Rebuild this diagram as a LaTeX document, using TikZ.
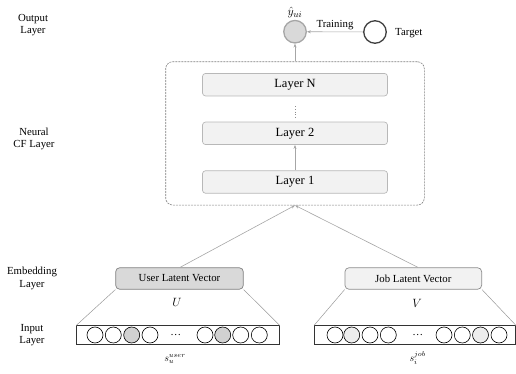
\documentclass[tikz,border=0pt]{standalone}
\usepackage{fontspec}
\setmainfont{Liberation Serif}
\usetikzlibrary{arrows.meta}
\begin{document}
\begin{tikzpicture}[x=1pt,y=-1pt,
  lbl/.style={font=\fontsize{10.8}{12.5}\selectfont, align=center, inner sep=1pt},
  layerbox/.style={draw=black!28, fill=black!5, rounded corners=3pt, line width=0.7pt,
    minimum width=185pt, minimum height=22.5pt, inner sep=0pt, font=\fontsize{12.5}{14}\selectfont},
  embox/.style={rounded corners=4pt, line width=0.7pt, minimum height=21.5pt, inner sep=0pt,
    font=\fontsize{10.8}{12}\selectfont},
  inbox/.style={draw=black!80, fill=white, line width=0.8pt, minimum height=18.5pt, inner sep=0pt},
  dot/.style={circle, draw=black, line width=0.6pt, minimum size=16pt, inner sep=0pt},
  arr/.style={draw=black!35, line width=0.6pt, -{Stealth[length=4pt,width=3pt]}},
  thin line/.style={draw=black!40, line width=0.5pt},
  mathlbl/.style={inner sep=0pt}
]
\useasboundingbox (0,0) rectangle (516,374);

% left labels
\node[lbl] (lout) at (33,25) {Output\\Layer};
\node[lbl] (lcf) at (34,139) {Neural\\CF Layer};
\node[lbl] (lemb) at (32,278.5) {Embedding\\Layer};
\node[lbl] (lin) at (32,335) {Input\\Layer};

% neural CF block
\node[draw=black!50, dashed, dash pattern=on 2pt off 1pt, line width=0.6pt, rounded corners=7pt,
  minimum width=258.6pt, minimum height=143.3pt, inner sep=0pt] (cf) at (295,133.4) {};
\node[layerbox] (ln) at (295,84.7) {Layer N};
\node[layerbox] (l2) at (295,133.3) {Layer 2};
\node[layerbox] (l1) at (295,182) {Layer 1};
\coordinate (vdt) at (295,106.5);
\coordinate (vdb) at (295,117.5);
\draw[black!45, line width=0.7pt, dash pattern=on 1pt off 1.6pt] (vdt) -- (vdb);
\draw[arr] (l1) -- (l2);

% output
\node[circle, draw=black!35, fill=black!15, line width=1.3pt, minimum size=22.5pt, inner sep=0pt] (out) at (295,31.7) {};
\node[mathlbl, font=\fontsize{13}{15}\selectfont] (yhat) at (295,12.5) {$\hat{y}_{ui}$};
\node[circle, draw=black!75, line width=1.3pt, minimum size=22.5pt, inner sep=0pt] (tgt) at (375,32) {};
\node[lbl, anchor=west] (tgtlbl) at (394,33) {Target};
\draw[arr] (tgt) -- node[lbl, above=0.5pt] (trn) {Training} (out);
\draw[arr] (cf.north) -- (out);

% embedding
\node[embox, draw=black!50, fill=black!15, minimum width=127.6pt] (ulv) at (179.5,278.5) {User Latent Vector};
\node[embox, draw=black!45, fill=black!5, minimum width=136.7pt] (jlv) at (413.3,278.5) {Job Latent Vector};
\draw[arr] ([xshift=0.5pt]ulv.north) -- (cf.south);
\draw[arr] ([xshift=4.7pt]jlv.north) -- (cf.south);

\node[mathlbl, font=\fontsize{13}{15}\selectfont] (U) at (177,302) {$U$};
\node[mathlbl, font=\fontsize{13}{15}\selectfont] (V) at (417,303) {$V$};

% input layer
\node[inbox, minimum width=202.6pt] (uin) at (178,335) {};
\node[inbox, minimum width=201pt] (jin) at (415,335) {};
\draw[thin line] (ulv.south west) -- (uin.north west);
\draw[thin line] (ulv.south east) -- (uin.north east);
\draw[thin line] (jlv.south west) -- (jin.north west);
\draw[thin line] (jlv.south east) -- (jin.north east);

\foreach \x/\n/\f in {95/u1/white, 113.3/u2/white, 131.7/u3/black!18, 150/u4/white,
                      205/u5/white, 222.7/u6/black!18, 240.7/u7/white, 259.3/u8/white}
  \node[dot, fill=\f] (\n) at (\x,335) {};
\node[lbl] (udots) at (175.7,335) {\dots};
\foreach \x/\n/\f in {335/j1/white, 351.7/j2/black!7, 370/j3/white, 388.3/j4/white,
                      444/j5/white, 462.3/j6/white, 480.5/j7/black!7, 499/j8/white}
  \node[dot, fill=\f] (\n) at (\x,335) {};
\node[lbl] (jdots) at (417.7,335) {\dots};

\node[mathlbl, font=\fontsize{10}{12}\selectfont] (su) at (175,359) {$s_u^{user}$};
\node[mathlbl, font=\fontsize{10}{12}\selectfont] (sj) at (417.7,358) {$s_i^{job}$};
\end{tikzpicture}
\end{document}
